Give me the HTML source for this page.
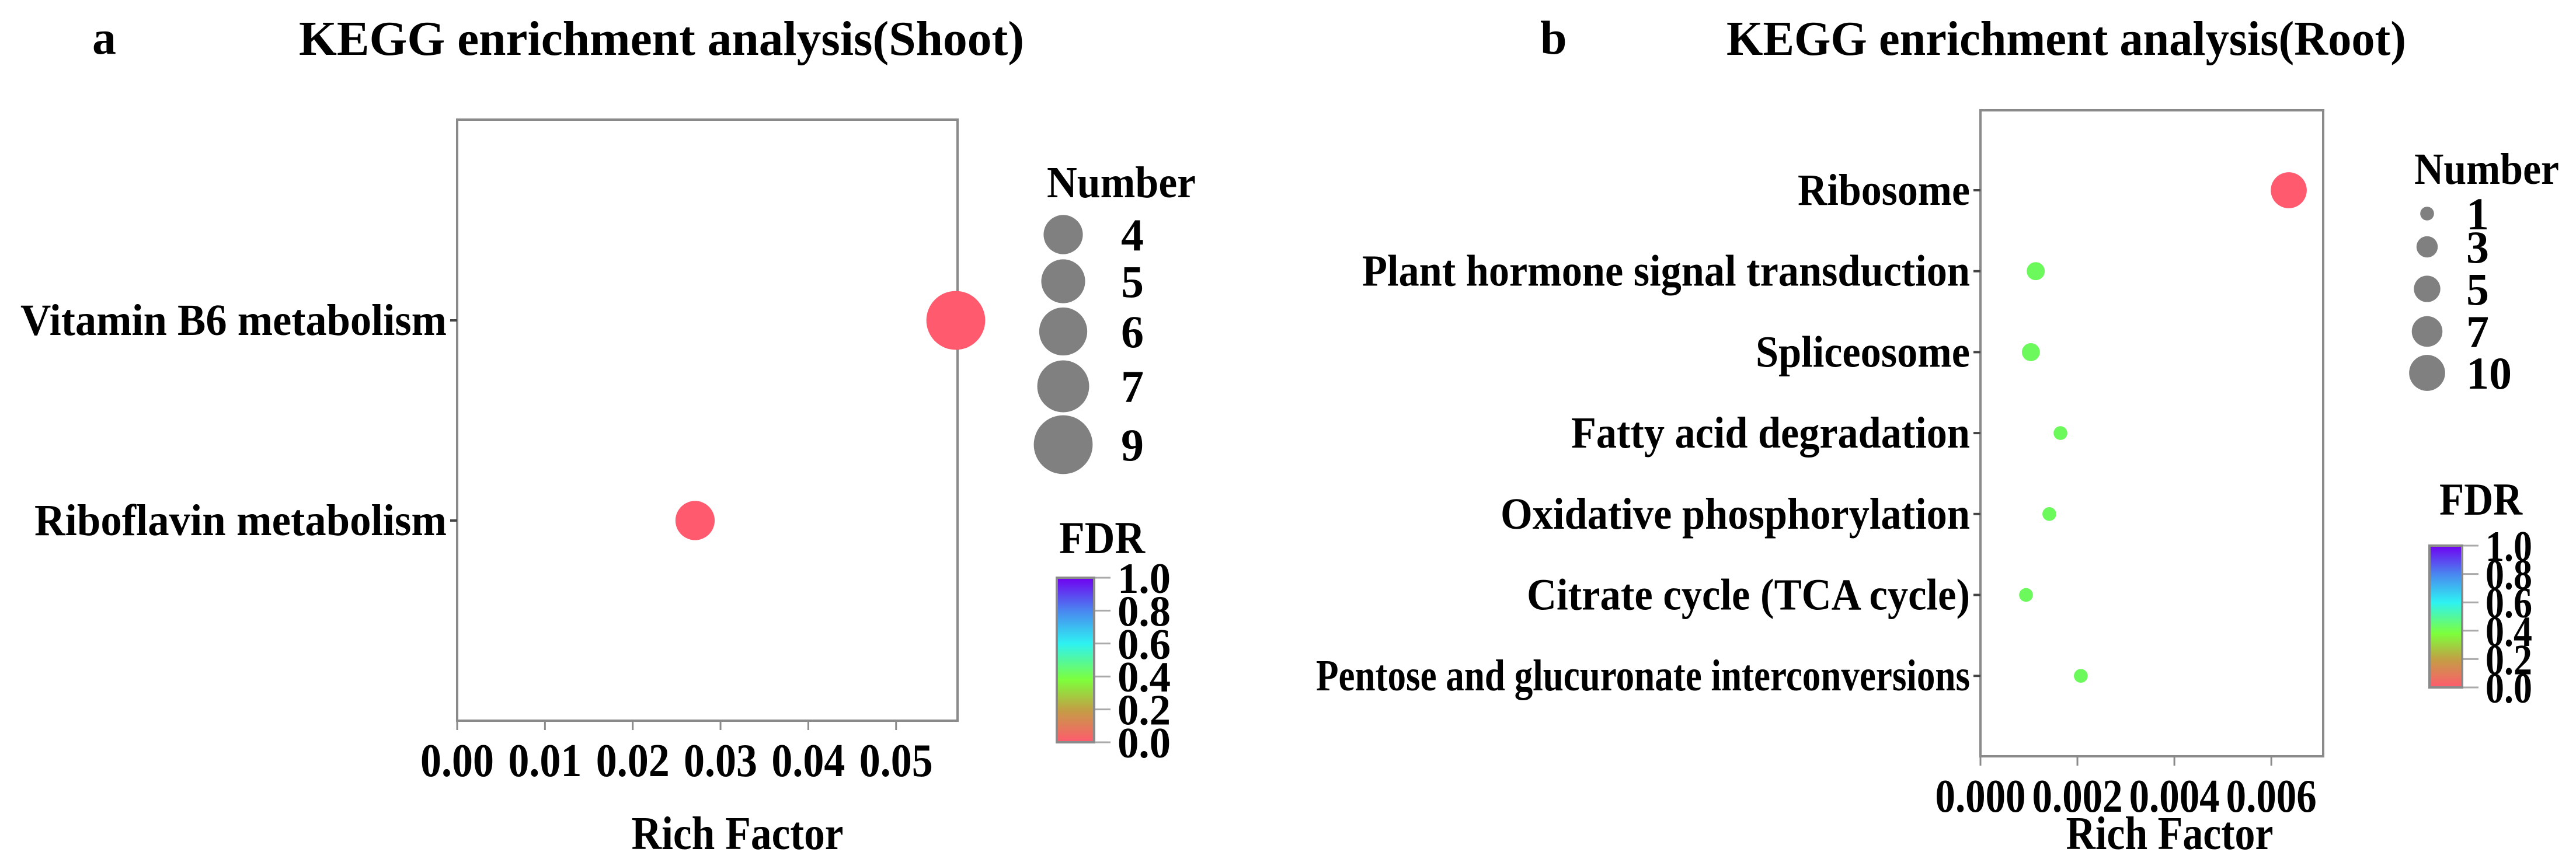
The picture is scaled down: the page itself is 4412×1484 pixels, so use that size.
<!DOCTYPE html>
<html><head><meta charset="utf-8">
<style>
html,body{margin:0;padding:0;background:#fff;}
svg{display:block;}
text{font-family:"Liberation Serif",serif;font-weight:bold;fill:#000;}
</style></head>
<body>
<svg id="chart" width="4412" height="1484" viewBox="0 0 4412 1484" xmlns="http://www.w3.org/2000/svg">
<defs>
<linearGradient id="fdrGrad" x1="0" y1="1" x2="0" y2="0">
<stop offset="0" stop-color="#ff5a6e"/>
<stop offset="0.2" stop-color="#c2a044"/>
<stop offset="0.38" stop-color="#7dff3c"/>
<stop offset="0.6" stop-color="#2ef2f2"/>
<stop offset="0.8" stop-color="#4a86f0"/>
<stop offset="1" stop-color="#7000f0"/>
</linearGradient>
</defs>
<g id="panelA"></g>
<g id="panelB"></g>
</svg>
<script>
// Panel a (Shoot)
const shootCategories = ["Vitamin B6 metabolism", "Riboflavin metabolism"];
const shootRichFactor = [0.0568, 0.0271];
const shootNumber = [9, 4];
const shootFDR = [0.0, 0.0];
const shootXTicks = [0, 0.01, 0.02, 0.03, 0.04, 0.05];
const shootXTickLabels = ["0.00", "0.01", "0.02", "0.03", "0.04", "0.05"];
const shootLegendNumbers = [4, 5, 6, 7, 9];
// Panel b (Root)
const rootCategories = ["Ribosome", "Plant hormone signal transduction", "Spliceosome", "Fatty acid degradation", "Oxidative phosphorylation", "Citrate cycle (TCA cycle)", "Pentose and glucuronate interconversions"];
const rootRichFactor = [0.00636, 0.00114, 0.00104, 0.00165, 0.00142, 0.00094, 0.00207];
const rootNumber = [10, 2, 2, 1, 1, 1, 1];
const rootFDR = [0.0, 0.38, 0.38, 0.38, 0.38, 0.38, 0.38];
const rootXTicks = [0, 0.002, 0.004, 0.006];
const rootXTickLabels = ["0.000", "0.002", "0.004", "0.006"];
const rootLegendNumbers = [1, 3, 5, 7, 10];
const fdrTicks = [0, 0.2, 0.4, 0.6, 0.8, 1.0];
const fdrTickLabels = ["0.0", "0.2", "0.4", "0.6", "0.8", "1.0"];

const NS = "http://www.w3.org/2000/svg";
function mk(parent, tag, attrs, txt) {
  const e = document.createElementNS(NS, tag);
  for (const k in attrs) e.setAttribute(k, attrs[k]);
  if (txt !== undefined) e.textContent = txt;
  parent.appendChild(e);
  return e;
}
function fdrColor(v) {
  const stops = [[0,[255,90,110]],[0.2,[194,160,68]],[0.38,[108,249,92]],[0.6,[46,242,242]],[0.8,[74,134,240]],[1,[112,0,240]]];
  for (let i = 1; i < stops.length; i++) {
    if (v <= stops[i][0]) {
      const a = stops[i-1], b = stops[i], t = (v - a[0]) / (b[0] - a[0]);
      const c = a[1].map((x, j) => Math.round(x + (b[1][j] - x) * t));
      return "rgb(" + c.join(",") + ")";
    }
  }
  return "rgb(112,0,240)";
}

function drawPanel(g, cfg) {
  const xScale = v => cfg.x0 + (v - cfg.xmin) / (cfg.xmax - cfg.xmin) * (cfg.x1 - cfg.x0);
  const yScale = i => cfg.catY0 + i * cfg.catStep;
  let t;
  t = mk(g, "text", {x: cfg.letterX, y: 92, "font-size": 82});
  t.textContent = cfg.letter;
  
  
  t = mk(g, "text", {x: cfg.titleX, y: 94, "font-size": 84, textLength: cfg.titleW, lengthAdjust: "spacingAndGlyphs"});
  t.textContent = cfg.title;
  
  
  const box = mk(g, "rect", {x: cfg.x0, y: cfg.y0, width: cfg.x1 - cfg.x0, height: cfg.y1 - cfg.y0, fill: "none", stroke: "#8a8a8a", "stroke-width": 4});
  
  
  cfg.xTicks.forEach((v, i) => {
    const x = xScale(v);
    const l = mk(g, "line", {x1: x, x2: x, y1: cfg.y1, y2: cfg.y1 + 16, stroke: "#8a8a8a", "stroke-width": 3});
    
    
    const tl = mk(g, "text", {x: x, y: cfg.y1 + 95, "font-size": 80, "text-anchor": "middle", textLength: cfg.tickW, lengthAdjust: "spacingAndGlyphs"});
    tl.textContent = cfg.xTickLabels[i];
    
    
  });
  t = mk(g, "text", {x: cfg.xTitleX, y: 1455, "font-size": 80, "text-anchor": "middle", textLength: cfg.xTitleW, lengthAdjust: "spacingAndGlyphs"});
  t.textContent = "Rich Factor";
  
  
  cfg.categories.forEach((c, i) => {
    const y = yScale(i);
    const l = mk(g, "line", {x1: cfg.x0 - 12, x2: cfg.x0, y1: y, y2: y, stroke: "#444", "stroke-width": 4});
    
    
    const tl = mk(g, "text", {x: cfg.x0 - 18, y: y + 25, "font-size": 76, "text-anchor": "end", textLength: cfg.labelW[i], lengthAdjust: "spacingAndGlyphs"});
    tl.textContent = c;
    
    
  });
  cfg.rich.forEach((v, i) => {
    const p = mk(g, "circle", {cx: xScale(v), cy: yScale(i), r: cfg.rFn(cfg.num[i]), fill: fdrColor(cfg.fdr[i])});
    
    
  });
  t = mk(g, "text", {x: cfg.lgX, y: cfg.lgTitleY, "font-size": 76, textLength: cfg.lgTitleW, lengthAdjust: "spacingAndGlyphs"});
  t.textContent = "Number";
  
  
  cfg.legendNums.forEach((n, i) => {
    const y = cfg.lgYs[i];
    const c = mk(g, "circle", {cx: cfg.lgCX, cy: y, r: cfg.rFn(n), fill: "#808080"});
    
    
    const tl = mk(g, "text", {x: cfg.lgTX, y: y + 27, "font-size": 78});
    tl.textContent = String(n);
    
    
  });
  t = mk(g, "text", {x: cfg.cbTitleX, y: cfg.cbTitleY, "font-size": 78, textLength: cfg.cbTitleW, lengthAdjust: "spacingAndGlyphs"});
  t.textContent = "FDR";
  
  
  const cb = mk(g, "rect", {x: cfg.cbX, y: cfg.cbY0, width: cfg.cbW, height: cfg.cbY1 - cfg.cbY0, fill: "url(#fdrGrad)", stroke: "#8a8a8a", "stroke-width": 4});
  
  
  fdrTicks.forEach((v, i) => {
    const y = cfg.cbY1 - v * (cfg.cbY1 - cfg.cbY0);
    const l = mk(g, "line", {x1: cfg.cbX + cfg.cbW + 2, x2: cfg.cbX + cfg.cbW + 28, y1: y, y2: y, stroke: "#aaa", "stroke-width": 3});
    
    
    const tl = mk(g, "text", {x: cfg.cbX + cfg.cbW + 40, y: y + 26, "font-size": 74, textLength: cfg.cbLabW, lengthAdjust: "spacingAndGlyphs"});
    tl.textContent = fdrTickLabels[i];
    
    
  });
}

drawPanel(document.getElementById("panelA"), {
  letter: "a", letterX: 158, title: "KEGG enrichment analysis(Shoot)", titleX: 512, titleW: 1242,
  x0: 783, x1: 1640, y0: 205, y1: 1235, xmin: 0, xmax: 0.0570,
  xTicks: shootXTicks, xTickLabels: shootXTickLabels, tickW: 126,
  xTitleX: 1263, xTitleW: 363,
  categories: shootCategories, catY0: 549, catStep: 343, labelW: [730, 706],
  rich: shootRichFactor, num: shootNumber, fdr: shootFDR,
  rFn: n => 16.8 * Math.sqrt(n),
  lgX: 1793, lgTitleY: 338, lgTitleW: 255, lgCX: 1821, lgYs: [402, 482, 568, 662, 762], lgTX: 1920,
  legendNums: shootLegendNumbers,
  cbTitleX: 1814, cbTitleY: 948, cbTitleW: 147, cbX: 1810, cbW: 64, cbY0: 990, cbY1: 1272, cbLabW: 91
});
drawPanel(document.getElementById("panelB"), {
  letter: "b", letterX: 2638, title: "KEGG enrichment analysis(Root)", titleX: 2957, titleW: 1164,
  x0: 3392, x1: 3979, y0: 189, y1: 1296, xmin: 0, xmax: 0.00707,
  xTicks: rootXTicks, xTickLabels: rootXTickLabels, tickW: 155,
  xTitleX: 3716, xTitleW: 355,
  categories: rootCategories, catY0: 326, catStep: 138.7, labelW: [295, 1041, 367, 683, 804, 759, 1120],
  rich: rootRichFactor, num: rootNumber, fdr: rootFDR,
  rFn: n => 3 + 8.8 * Math.sqrt(n),
  lgX: 4135, lgTitleY: 315, lgTitleW: 248, lgCX: 4157, lgYs: [366, 423, 495, 568, 639], lgTX: 4224,
  legendNums: rootLegendNumbers,
  cbTitleX: 4178, cbTitleY: 882, cbTitleW: 142, cbX: 4161, cbW: 56, cbY0: 935, cbY1: 1178, cbLabW: 80
});
</script>
</body></html>
